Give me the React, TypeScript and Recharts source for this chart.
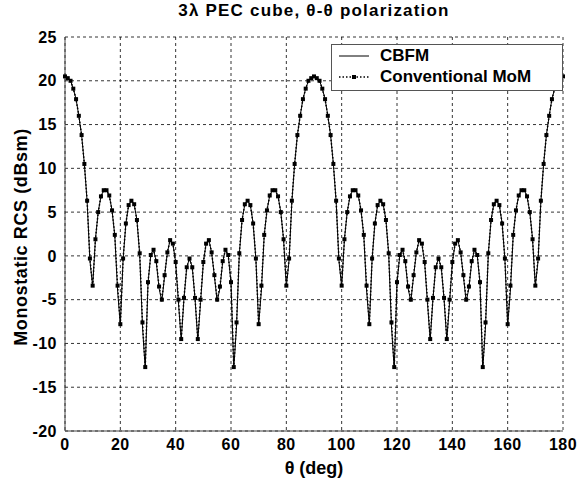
import React from 'react';
import { LineChart, Line, XAxis, YAxis, CartesianGrid } from 'recharts';

// θ in degrees, one sample per degree
const theta = [
  0, 1, 2, 3, 4, 5, 6, 7, 8, 9, 10, 11, 12, 13, 14, 15, 16, 17, 18, 19,
  20, 21, 22, 23, 24, 25, 26, 27, 28, 29, 30, 31, 32, 33, 34, 35, 36, 37, 38, 39,
  40, 41, 42, 43, 44, 45, 46, 47, 48, 49, 50, 51, 52, 53, 54, 55, 56, 57, 58, 59,
  60, 61, 62, 63, 64, 65, 66, 67, 68, 69, 70, 71, 72, 73, 74, 75, 76, 77, 78, 79,
  80, 81, 82, 83, 84, 85, 86, 87, 88, 89, 90, 91, 92, 93, 94, 95, 96, 97, 98, 99,
  100, 101, 102, 103, 104, 105, 106, 107, 108, 109, 110, 111, 112, 113, 114, 115, 116, 117, 118, 119,
  120, 121, 122, 123, 124, 125, 126, 127, 128, 129, 130, 131, 132, 133, 134, 135, 136, 137, 138, 139,
  140, 141, 142, 143, 144, 145, 146, 147, 148, 149, 150, 151, 152, 153, 154, 155, 156, 157, 158, 159,
  160, 161, 162, 163, 164, 165, 166, 167, 168, 169, 170, 171, 172, 173, 174, 175, 176, 177, 178, 179,
  180,
];

// monostatic RCS (dBsm), conventional MoM
const mom = [
  20.5, 20.3, 20.0, 19.1, 17.9, 16.0, 13.8, 10.5, 6.3, -0.3, -3.4, 1.9, 5.0, 6.8, 7.5, 7.5, 6.9, 5.2, 2.4, -3.4,
  -7.8, -0.3, 3.7, 5.8, 6.3, 5.9, 4.1, 0.3, -7.6, -12.7, -3.0, 0.1, 0.7, -0.6, -3.5, -5.0, -2.2, 0.4, 1.8, 1.4,
  -0.7, -5.0, -9.5, -4.8, -1.3, -0.3, -1.3, -4.8, -9.5, -5.0, -0.7, 1.4, 1.8, 0.4, -2.2, -5.0, -3.5, -0.6, 0.7, 0.1,
  -3.0, -12.7, -7.6, 0.3, 4.1, 5.9, 6.3, 5.8, 3.7, -0.3, -7.8, -3.4, 2.4, 5.2, 6.9, 7.5, 7.5, 6.8, 5.0, 1.9,
  -3.4, -0.3, 6.3, 10.5, 13.8, 16.0, 17.9, 19.1, 20.0, 20.3, 20.5, 20.3, 20.0, 19.1, 17.9, 16.0, 13.8, 10.5, 6.3, -0.3,
  -3.4, 1.9, 5.0, 6.8, 7.5, 7.5, 6.9, 5.2, 2.4, -3.4, -7.8, -0.3, 3.7, 5.8, 6.3, 5.9, 4.1, 0.3, -7.6, -12.7,
  -3.0, 0.1, 0.7, -0.6, -3.5, -5.0, -2.2, 0.4, 1.8, 1.4, -0.7, -5.0, -9.5, -4.8, -1.3, -0.3, -1.3, -4.8, -9.5, -5.0,
  -0.7, 1.4, 1.8, 0.4, -2.2, -5.0, -3.5, -0.6, 0.7, 0.1, -3.0, -12.7, -7.6, 0.3, 4.1, 5.9, 6.3, 5.8, 3.7, -0.3,
  -7.8, -3.4, 2.4, 5.2, 6.9, 7.5, 7.5, 6.8, 5.0, 1.9, -3.4, -0.3, 6.3, 10.5, 13.8, 16.0, 17.9, 19.1, 20.0, 20.3,
  20.5,
];

// monostatic RCS (dBsm), CBFM
const cbfm = [
  20.5, 20.3, 20.0, 19.1, 17.9, 16.0, 13.8, 10.5, 6.2, -0.5, -3.5, 1.9, 5.0, 6.8, 7.5, 7.5, 6.9, 5.2, 2.3, -3.9,
  -7.9, -0.4, 3.7, 5.8, 6.3, 5.9, 4.1, 0.2, -8.0, -12.9, -3.1, 0.1, 0.7, -0.7, -3.7, -5.2, -2.3, 0.4, 1.8, 1.4,
  -0.8, -5.3, -9.6, -4.9, -1.3, -0.3, -1.3, -4.9, -9.6, -5.3, -0.8, 1.4, 1.8, 0.4, -2.3, -5.2, -3.7, -0.7, 0.7, 0.1,
  -3.1, -12.9, -8.0, 0.2, 4.1, 5.9, 6.3, 5.8, 3.7, -0.4, -7.9, -3.9, 2.3, 5.2, 6.9, 7.5, 7.5, 6.8, 5.0, 1.9,
  -3.5, -0.5, 6.2, 10.5, 13.8, 16.0, 17.9, 19.1, 20.0, 20.3, 20.5, 20.3, 20.0, 19.1, 17.9, 16.0, 13.8, 10.5, 6.2, -0.5,
  -3.5, 1.9, 5.0, 6.8, 7.5, 7.5, 6.9, 5.2, 2.3, -3.9, -7.9, -0.4, 3.7, 5.8, 6.3, 5.9, 4.1, 0.2, -8.0, -12.9,
  -3.1, 0.1, 0.7, -0.7, -3.7, -5.2, -2.3, 0.4, 1.8, 1.4, -0.8, -5.3, -9.6, -4.9, -1.3, -0.3, -1.3, -4.9, -9.6, -5.3,
  -0.8, 1.4, 1.8, 0.4, -2.3, -5.2, -3.7, -0.7, 0.7, 0.1, -3.1, -12.9, -8.0, 0.2, 4.1, 5.9, 6.3, 5.8, 3.7, -0.4,
  -7.9, -3.9, 2.3, 5.2, 6.9, 7.5, 7.5, 6.8, 5.0, 1.9, -3.5, -0.5, 6.2, 10.5, 13.8, 16.0, 17.9, 19.1, 20.0, 20.3,
  20.5,
];

const xTicks = [0, 20, 40, 60, 80, 100, 120, 140, 160, 180];
const yTicks = [-20, -15, -10, -5, 0, 5, 10, 15, 20, 25];

const data = theta.map((t, i) => ({ theta: t, cbfm: cbfm[i], mom: mom[i] }));

const FONT = 'Arial, "Liberation Sans", sans-serif';
const tickStyle = { fontFamily: FONT, fontSize: 16, fontWeight: 'bold', fill: '#000', letterSpacing: 0.5 };
const labelStyle = { fontFamily: FONT, fontSize: 18, fontWeight: 'bold', fill: '#000' };

const SquareDot = (props: any) => {
  const { cx, cy, index } = props;
  if (cx == null || cy == null) return <g key={`m${index}`} />;
  return <rect key={`m${index}`} x={cx - 2} y={cy - 2} width={4} height={4} fill="#000" />;
};

const LegendBox = () => (
  <div
    style={{
      position: 'absolute',
      left: 331,
      top: 44,
      width: 230,
      height: 45,
      border: '1px solid #555',
      background: '#fff',
      fontFamily: FONT,
      fontSize: 17,
      fontWeight: 'bold',
      zIndex: 2,
    }}
  >
    <svg width={40} height={45} style={{ position: 'absolute', left: 0, top: 0 }}>
      <line x1={7} y1={11} x2={37} y2={11} stroke="#000" strokeWidth={1} />
      <line x1={7} y1={32} x2={37} y2={32} stroke="#000" strokeWidth={1.5} strokeDasharray="1.5 2" />
      <rect x={20} y={30} width={4} height={4} fill="#000" />
    </svg>
    <div style={{ position: 'absolute', left: 48, top: 1, lineHeight: '20px' }}>CBFM</div>
    <div style={{ position: 'absolute', left: 48, top: 22, lineHeight: '20px' }}>Conventional MoM</div>
  </div>
);

export default function App() {
  return (
    <div style={{ position: 'absolute', left: 0, top: 0, width: 578, height: 478, background: '#fff' }}>
      <div
        style={{
          position: 'absolute',
          left: 65,
          width: 498,
          top: 1,
          textAlign: 'center',
          fontFamily: FONT,
          fontSize: 17,
          fontWeight: 'bold',
          letterSpacing: 1.2,
        }}
      >
        3λ PEC cube, θ-θ polarization
      </div>
      <LegendBox />
      <LineChart width={578} height={478} data={data} margin={{ top: 37, right: 15, bottom: 0, left: 0 }}>
        <CartesianGrid stroke="#000" strokeDasharray="3 3" strokeWidth={0.8} />
        <XAxis
          dataKey="theta"
          type="number"
          domain={[0, 180]}
          ticks={xTicks}
          height={47}
          tick={tickStyle}
          tickLine={false}
          axisLine={{ stroke: '#444' }}
          label={{ value: 'θ (deg)', position: 'insideBottom', offset: 4, style: labelStyle }}
        />
        <XAxis
          xAxisId="top"
          orientation="top"
          dataKey="theta"
          type="number"
          domain={[0, 180]}
          ticks={xTicks}
          height={0}
          tick={false}
          tickLine={false}
          axisLine={{ stroke: '#444' }}
        />
        <YAxis
          type="number"
          domain={[-20, 25]}
          ticks={yTicks}
          width={65}
          tick={tickStyle}
          tickLine={false}
          interval={0}
          axisLine={{ stroke: '#444' }}
          label={{
            content: () => (
              <text
                x={22}
                y={237}
                transform="rotate(-90 22 237)"
                textAnchor="middle"
                dominantBaseline="middle"
                style={{ ...labelStyle, letterSpacing: 0.6 }}
              >
                Monostatic RCS (dBsm)
              </text>
            ),
          }}
        />
        <YAxis
          yAxisId="right"
          orientation="right"
          type="number"
          domain={[-20, 25]}
          ticks={yTicks}
          width={0}
          tick={false}
          tickLine={false}
          axisLine={{ stroke: '#444' }}
        />
        <Line
          dataKey="cbfm"
          name="CBFM"
          stroke="#000"
          strokeWidth={1}
          dot={false}
          isAnimationActive={false}
        />
        <Line
          dataKey="mom"
          name="Conventional MoM"
          stroke="#000"
          strokeWidth={1.5}
          strokeDasharray="1.5 2"
          dot={SquareDot}
          isAnimationActive={false}
        />
      </LineChart>
    </div>
  );
}
